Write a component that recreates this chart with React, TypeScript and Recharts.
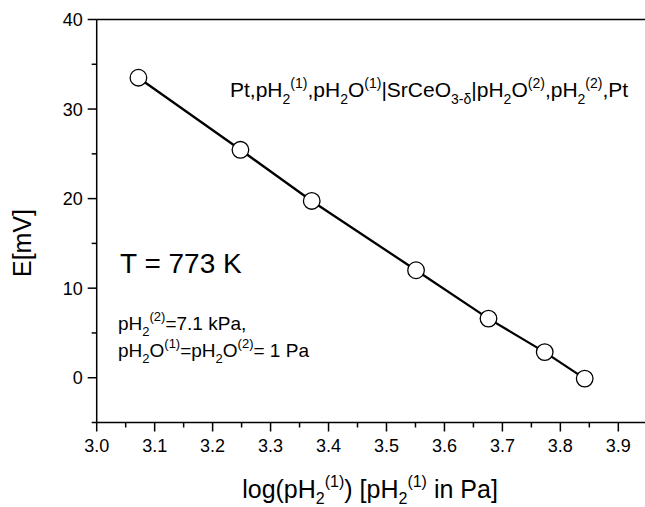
import React from "react";
import { LineChart, Line, XAxis, YAxis, ReferenceLine, Label } from "recharts";

// data
const logPH2 = [3.072, 3.248, 3.371, 3.551, 3.676, 3.773, 3.842];
const emf = [33.5, 25.45, 19.74, 12.0, 6.6, 2.86, -0.1];

// ticks
const xMajorTicks = [3.0, 3.1, 3.2, 3.3, 3.4, 3.5, 3.6, 3.7, 3.8, 3.9];
const xMinorTicks = [3.05, 3.15, 3.25, 3.35, 3.45, 3.55, 3.65, 3.75, 3.85, 3.95];
const yMajorTicks = [0, 10, 20, 30, 40];
const yMinorTicks = [-5, 5, 15, 25, 35];

const data = logPH2.map((x, i) => ({ x, e: emf[i] }));
const xTicks = [...xMajorTicks, ...xMinorTicks].sort((a, b) => a - b);
const yTicks = [...yMajorTicks, ...yMinorTicks].sort((a, b) => a - b);

const FONT = "'Liberation Sans', Arial, Helvetica, sans-serif";

const isXMajor = (v: number) => xMajorTicks.some((t) => Math.abs(t - v) < 1e-6);
const isYMajor = (v: number) => yMajorTicks.some((t) => Math.abs(t - v) < 1e-6);

const XTick = (props: any) => {
  const { x, y, payload } = props;
  const major = isXMajor(payload.value);
  return (
    <g>
      <line x1={x} y1={y} x2={x} y2={y + (major ? 9 : 5)} stroke="#000" strokeWidth={1.5} />
      {major && (
        <text x={x} y={y + 29.5} textAnchor="middle" fontSize={18} fontFamily={FONT} fill="#000">
          {Number(payload.value).toFixed(1)}
        </text>
      )}
    </g>
  );
};

const YTick = (props: any) => {
  const { x, y, payload } = props;
  const major = isYMajor(payload.value);
  return (
    <g>
      <line x1={x} y1={y} x2={x - (major ? 9 : 5)} y2={y} stroke="#000" strokeWidth={1.5} />
      {major && (
        <text x={x - 14} y={y + 6.5} textAnchor="end" fontSize={18} fontFamily={FONT} fill="#000">
          {String(payload.value)}
        </text>
      )}
    </g>
  );
};

const XLabel = () => (
  <text x={370} y={498} textAnchor="middle" fontSize={25} fontFamily={FONT} fill="#000">
    log(pH
    <tspan fontSize={16} dy={6}>2</tspan>
    <tspan fontSize={16} dy={-17}>(1)</tspan>
    <tspan dy={11}>) [pH</tspan>
    <tspan fontSize={16} dy={6}>2</tspan>
    <tspan fontSize={16} dy={-17}>(1)</tspan>
    <tspan dy={11}> in Pa]</tspan>
  </text>
);

const YLabel = () => (
  <text
    x={22}
    y={243}
    transform="rotate(-90 22 243)"
    textAnchor="middle"
    dominantBaseline="central"
    fontSize={25}
    fontFamily={FONT}
    fill="#000"
  >
    E[mV]
  </text>
);

export default function App() {
  return (
    <div
      style={{
        position: "absolute",
        left: 0,
        top: 0,
        width: 645,
        height: 507,
        overflow: "hidden",
        background: "#fff",
      }}
    >
      <LineChart
        width={660}
        height={507}
        data={data}
        margin={{ top: 19.5, right: 12.7, left: 0, bottom: 0 }}
      >
        <XAxis
          dataKey="x"
          type="number"
          domain={[3.0, 3.95]}
          ticks={xTicks}
          interval={0}
          tickSize={0}
          tickMargin={0}
          tickLine={false}
          tick={<XTick />}
          axisLine={{ stroke: "#000", strokeWidth: 1.5 }}
          height={84.5}
          allowDataOverflow
        >
          <Label content={<XLabel />} />
        </XAxis>
        <YAxis
          type="number"
          domain={[-5, 40]}
          ticks={yTicks}
          interval={0}
          tickSize={0}
          tickMargin={0}
          tickLine={false}
          tick={<YTick />}
          axisLine={{ stroke: "#000", strokeWidth: 1.5 }}
          width={96.7}
          allowDataOverflow
        >
          <Label content={<YLabel />} />
        </YAxis>
        <ReferenceLine y={40} stroke="#000" strokeWidth={1.5} />
        <Line
          dataKey="e"
          stroke="#000"
          strokeWidth={2.3}
          isAnimationActive={false}
          dot={{ r: 8.3, fill: "#fff", stroke: "#000", strokeWidth: 1.3 }}
          activeDot={false}
        />
      </LineChart>
      <svg
        width={645}
        height={507}
        style={{ position: "absolute", left: 0, top: 0, pointerEvents: "none" }}
      >
        <text x={230} y={97} fontSize={21} fontFamily={FONT} fill="#000">
          Pt,pH
          <tspan fontSize={14} dy={6.5}>2</tspan>
          <tspan fontSize={14} dy={-16}>(1)</tspan>
          <tspan dy={9.5}>,pH</tspan>
          <tspan fontSize={14} dy={6.5}>2</tspan>
          <tspan dy={-6.5}>O</tspan>
          <tspan fontSize={14} dy={-9.5}>(1)</tspan>
          <tspan dy={9.5}>|SrCeO</tspan>
          <tspan fontSize={14} dy={6.5}>3-δ</tspan>
          <tspan dy={-6.5}>|pH</tspan>
          <tspan fontSize={14} dy={6.5}>2</tspan>
          <tspan dy={-6.5}>O</tspan>
          <tspan fontSize={14} dy={-9.5}>(2)</tspan>
          <tspan dy={9.5}>,pH</tspan>
          <tspan fontSize={14} dy={6.5}>2</tspan>
          <tspan fontSize={14} dy={-16}>(2)</tspan>
          <tspan dy={9.5}>,Pt</tspan>
        </text>
        <text x={120} y={273} fontSize={28} fontFamily={FONT} fill="#000">
          T = 773 K
        </text>
        <text x={118} y={330} fontSize={19} fontFamily={FONT} fill="#000">
          pH
          <tspan fontSize={13} dy={6}>2</tspan>
          <tspan fontSize={13} dy={-15}>(2)</tspan>
          <tspan dy={9}>=7.1 kPa,</tspan>
        </text>
        <text x={118} y={357} fontSize={19} fontFamily={FONT} fill="#000">
          pH
          <tspan fontSize={13} dy={6}>2</tspan>
          <tspan dy={-6}>O</tspan>
          <tspan fontSize={13} dy={-9}>(1)</tspan>
          <tspan dy={9}>=pH</tspan>
          <tspan fontSize={13} dy={6}>2</tspan>
          <tspan dy={-6}>O</tspan>
          <tspan fontSize={13} dy={-9}>(2)</tspan>
          <tspan dy={9}>= 1 Pa</tspan>
        </text>
      </svg>
    </div>
  );
}
